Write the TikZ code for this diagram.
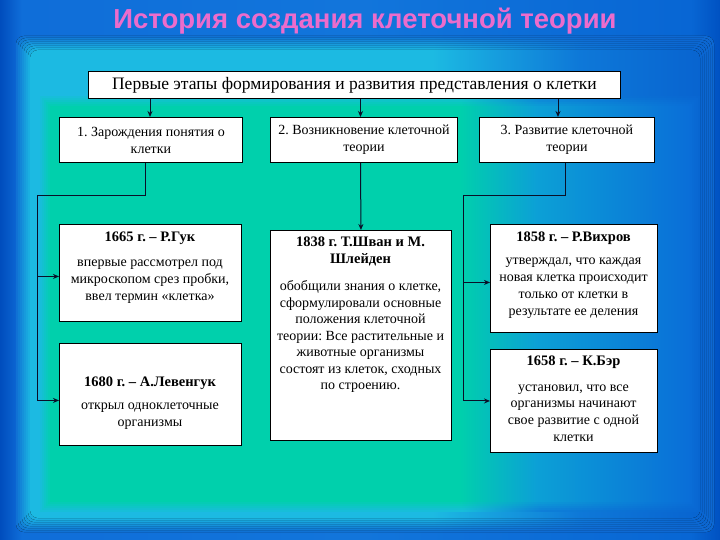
\documentclass[tikz,border=0pt]{standalone}
\usepackage{fontspec}
\setmainfont{Liberation Serif}
\newfontfamily\titlefont{Liberation Sans}
\usetikzlibrary{arrows.meta}
\frenchspacing
\definecolor{titlepink}{RGB}{236,108,204}
\definecolor{linecol}{RGB}{10,15,40}
\definecolor{bgB}{RGB}{14,104,210}
\definecolor{cyL}{RGB}{28,186,226}
\definecolor{cyR}{RGB}{14,120,216}
\definecolor{bgR}{RGB}{8,100,208}
\definecolor{teL}{RGB}{0,208,172}
\definecolor{teM}{RGB}{12,160,214}
\definecolor{teR}{RGB}{10,110,216}
% colour varies left to right; 25bp = left edge, 75bp = right edge of the path
\pgfdeclarehorizontalshading{bgH}{100bp}{rgb(0bp)=(0,0.30,0.74); rgb(25bp)=(0,0.30,0.74); rgb(26.5bp)=(0.06,0.43,0.85); rgb(50bp)=(0.07,0.46,0.86); rgb(73bp)=(0.03,0.40,0.83); rgb(75bp)=(0,0.32,0.76); rgb(100bp)=(0,0.32,0.76)}
\newcommand\cyshade[2]{\pgfdeclarehorizontalshading{#1}{100bp}{color(0bp)=(cyL!#2!bgB); color(25bp)=(cyL!#2!bgB); color(55bp)=(cyL!#2!bgB); color(66bp)=(cyR!#2!bgB); color(75bp)=(bgR!#2!bgB); color(100bp)=(bgR!#2!bgB)}}
\newcommand\teshade[2]{\pgfdeclarehorizontalshading{#1}{100bp}{color(0bp)=(teL!#2!cyL); color(25bp)=(teL!#2!cyL); color(57bp)=(teL!#2!cyL); color(63bp)=(teM!#2!cyR); color(75bp)=(teR!#2!bgR); color(100bp)=(teR!#2!bgR)}}
\cyshade{cy1}{12}\cyshade{cy2}{25}\cyshade{cy3}{37}\cyshade{cy4}{50}
\cyshade{cy5}{62}\cyshade{cy6}{75}\cyshade{cy7}{87}\cyshade{cy8}{100}
\teshade{te1}{17}\teshade{te2}{33}\teshade{te3}{50}
\teshade{te4}{67}\teshade{te5}{83}\teshade{te6}{100}
\begin{document}
\begin{tikzpicture}[x=1pt,y=-1pt,
  box/.style={draw=black, line width=0.9pt, fill=white, inner sep=0pt, anchor=north west},
  body/.style={font=\fontsize{14}{17}\selectfont, align=center, inner sep=0pt},
  head/.style={font=\bfseries\fontsize{14.5}{17}\selectfont, align=center, inner sep=0pt},
  conn/.style={line width=1pt, draw=linecol},
  arr/.style={conn, -{Stealth[length=6pt,width=5pt]}}]
\useasboundingbox (0,0) rectangle (720,540);
% background
\fill[shading=bgH] (0,0) rectangle (720,540);
\foreach \k in {1,...,8}{
  \pgfmathsetmacro{\d}{2*\k}
  \fill[shading=cy\k, rounded corners=8pt] (14+\d,34+\d) rectangle (716-\d,534-\d);
}
\foreach \k in {1,...,6}{
  \pgfmathsetmacro{\d}{2*\k}
  \fill[shading=te\k] (38+\d,95+\d) rectangle (702-\d,513-\d);
}
% title
\node[font=\titlefont\bfseries\fontsize{27.5}{30}\selectfont, text=titlepink, inner sep=0pt] (title) at (365,21) {История создания клеточной теории};
% boxes
\node[box, minimum width=532pt, minimum height=27pt] (top) at (88,71) {};
\node[box, minimum width=183pt, minimum height=45pt] (b1) at (59,117) {};
\node[box, minimum width=187pt, minimum height=45pt] (b2) at (270,117) {};
\node[box, minimum width=175pt, minimum height=45pt] (b3) at (479,117) {};
\node[box, minimum width=182pt, minimum height=97pt] (hooke) at (59,224) {};
\node[box, minimum width=182pt, minimum height=102pt] (leeu) at (59,343) {};
\node[box, minimum width=181pt, minimum height=210pt] (schw) at (270,230) {};
\node[box, minimum width=167pt, minimum height=108pt] (virch) at (490,224) {};
\node[box, minimum width=167pt, minimum height=103pt] (baer) at (490,349) {};
% texts
\node[body, font=\fontsize{17.5}{18}\selectfont] (topT) at (top.center) {Первые этапы формирования и развития представления о клетки};
\node[body] (b1T) at (b1.center) {1. Зарождения понятия о\\клетки};
\node[body] (b2T) at (b2.center) {2. Возникновение клеточной\\теории};
\node[body] (b3T) at (b3.center) {3. Развитие клеточной\\теории};
\node[head] (hookeH) at (150,238) {1665 г. – Р.Гук};
\node[body] (hookeB) at (150,281.5) {впервые рассмотрел под\\микроскопом срез пробки,\\ввел термин «клетка»};
\node[head] (leeuH) at (150,383) {1680 г. – А.Левенгук};
\node[body] (leeuB) at (150,416.5) {открыл одноклеточные\\организмы};
\node[head] (schwH) at (360.5,251.5) {1838 г. Т.Шван и М.\\Шлейден};
\node[body, font=\fontsize{14}{16.5}\selectfont] (schwB) at (360.5,336.5) {обобщили знания о клетке,\\сформулировали основные\\положения клеточной\\теории: Все растительные и\\животные организмы\\состоят из клеток, сходных\\по строению.};
\node[head] (virchH) at (573.5,238) {1858 г. – Р.Вихров};
\node[body] (virchB) at (573.5,288.5) {утверждал, что каждая\\новая клетка происходит\\только от клетки в\\результате ее деления};
\node[head] (baerH) at (573.5,362) {1658 г. – К.Бэр};
\node[body, font=\fontsize{14}{16.7}\selectfont] (baerB) at (573.5,413) {установил, что все\\организмы начинают\\свое развитие с одной\\клетки};
% connectors
\coordinate (c1) at (150,0);
\coordinate (c2) at (360.5,0);
\coordinate (c3) at (558,0);
\coordinate (c1b) at (145,0);
\coordinate (c3b) at (565,0);
\coordinate (L) at (37,196);
\coordinate (R) at (463,196);
\coordinate (hookeA) at ([yshift=-3.5pt]hooke.west);
\coordinate (leeuA) at ([yshift=-6pt]leeu.west);
\coordinate (virchA) at ([yshift=-4pt]virch.west);
\draw[arr] (top.south -| c1) -- (b1.north -| c1);
\draw[arr] (top.south -| c2) -- (b2.north -| c2);
\draw[arr] (top.south -| c3) -- (b3.north -| c3);
\draw[arr] (b2.south -| c2) -- (schw.north);
\draw[arr] (b1.south -| c1b) |- (L) |- (leeuA);
\draw[arr] (L |- hookeA) -- (hookeA);
\draw[arr] (b3.south -| c3b) |- (R) |- (baer.west);
\draw[arr] (R |- virchA) -- (virchA);
\end{tikzpicture}
\end{document}
